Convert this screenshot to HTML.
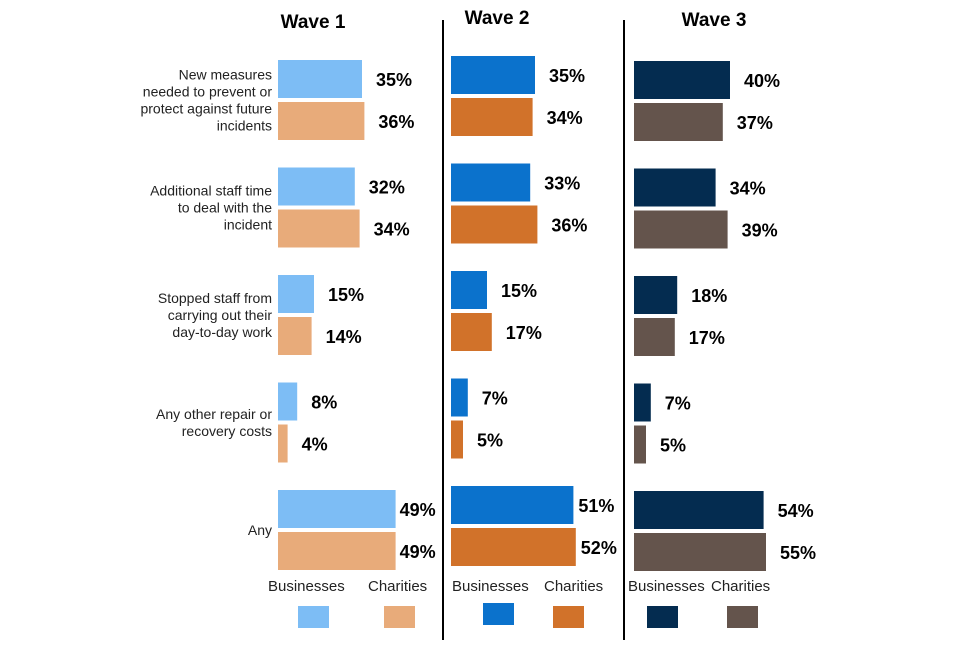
<!DOCTYPE html>
<html><head><meta charset="utf-8"><style>
body{margin:0;background:#fff;width:960px;height:640px;overflow:hidden;font-family:"Liberation Sans",Arial,sans-serif}
</style></head><body>
<svg id="chart" width="960" height="640" xmlns="http://www.w3.org/2000/svg"></svg>
<script>
const categories=[["New measures","needed to prevent or","protect against future","incidents"],["Additional staff time","to deal with the","incident"],["Stopped staff from","carrying out their","day-to-day work"],["Any other repair or","recovery costs"],["Any"]];
const waves=["Wave 1","Wave 2","Wave 3"];
const businesses=[[35,32,15,8,49],[35,33,15,7,51],[40,34,18,7,54]];
const charities=[[36,34,14,4,49],[34,36,17,5,52],[37,39,17,5,55]];
const svg=document.getElementById('chart');const NS='http://www.w3.org/2000/svg';
function mk(t,a,txt){const e=document.createElementNS(NS,t);for(const k in a)e.setAttribute(k,a[k]);if(txt!==undefined)e.textContent=txt;svg.appendChild(e);return e;}
const x0s=[278,451,634],yoff=[0,-4,1],titleX=[313,497,714],titleY=[28,24,26];
const bcol=["#7dbdf5","#0b72cc","#042c50"],ccol=["#e8ab7a","#d1722a","#64544c"];
const legBX=[268,452,628],legCX=[368,544,711],swBX=[298,483,647],swCX=[384,553,727],swBY=[606,603,606];
const lastGap=[4,5,14];
const scale=2.4;const sx=v=>v*scale;
const gy=i=>60+i*107.5;
[443,624].forEach((x,i)=>{const l=mk('line',{x1:x,x2:x,y1:20,y2:640,stroke:'#000','stroke-width':2});});
categories.forEach((c,i)=>{const cy=gy(i)+40-(c.length-1)*8.5+5;
const t=mk('text',{x:272,y:cy,'text-anchor':'end','font-size':14,fill:'#222'});
c.forEach((ln,j)=>{const s=document.createElementNS(NS,'tspan');s.setAttribute('x',272);s.setAttribute('dy',j?17:0);s.textContent=ln;t.appendChild(s);});});
waves.forEach((w,k)=>{
const tt=mk('text',{x:titleX[k],y:titleY[k],'text-anchor':'middle','font-size':19,'font-weight':'bold'},w);
categories.forEach((c,i)=>{const y=gy(i)+yoff[k];const gap=i===categories.length-1?lastGap[k]:14;
[[businesses[k][i],bcol[k],y,'business'],[charities[k][i],ccol[k],y+42,'charity']].forEach(([v,col,yy,nm])=>{
const r=mk('rect',{x:x0s[k],y:yy,width:sx(v),height:38,fill:col});
const l=mk('text',{x:x0s[k]+sx(v)+gap,y:yy+26,'font-size':18,'font-weight':'bold'},v+'%');});});
const l1=mk('text',{x:legBX[k],y:591,'font-size':15,fill:'#222'},'Businesses');
const l2=mk('text',{x:legCX[k],y:591,'font-size':15,fill:'#222'},'Charities');
const s1=mk('rect',{x:swBX[k],y:swBY[k],width:31,height:22,fill:bcol[k]});
const s2=mk('rect',{x:swCX[k],y:606,width:31,height:22,fill:ccol[k]});
});
</script></body></html>
